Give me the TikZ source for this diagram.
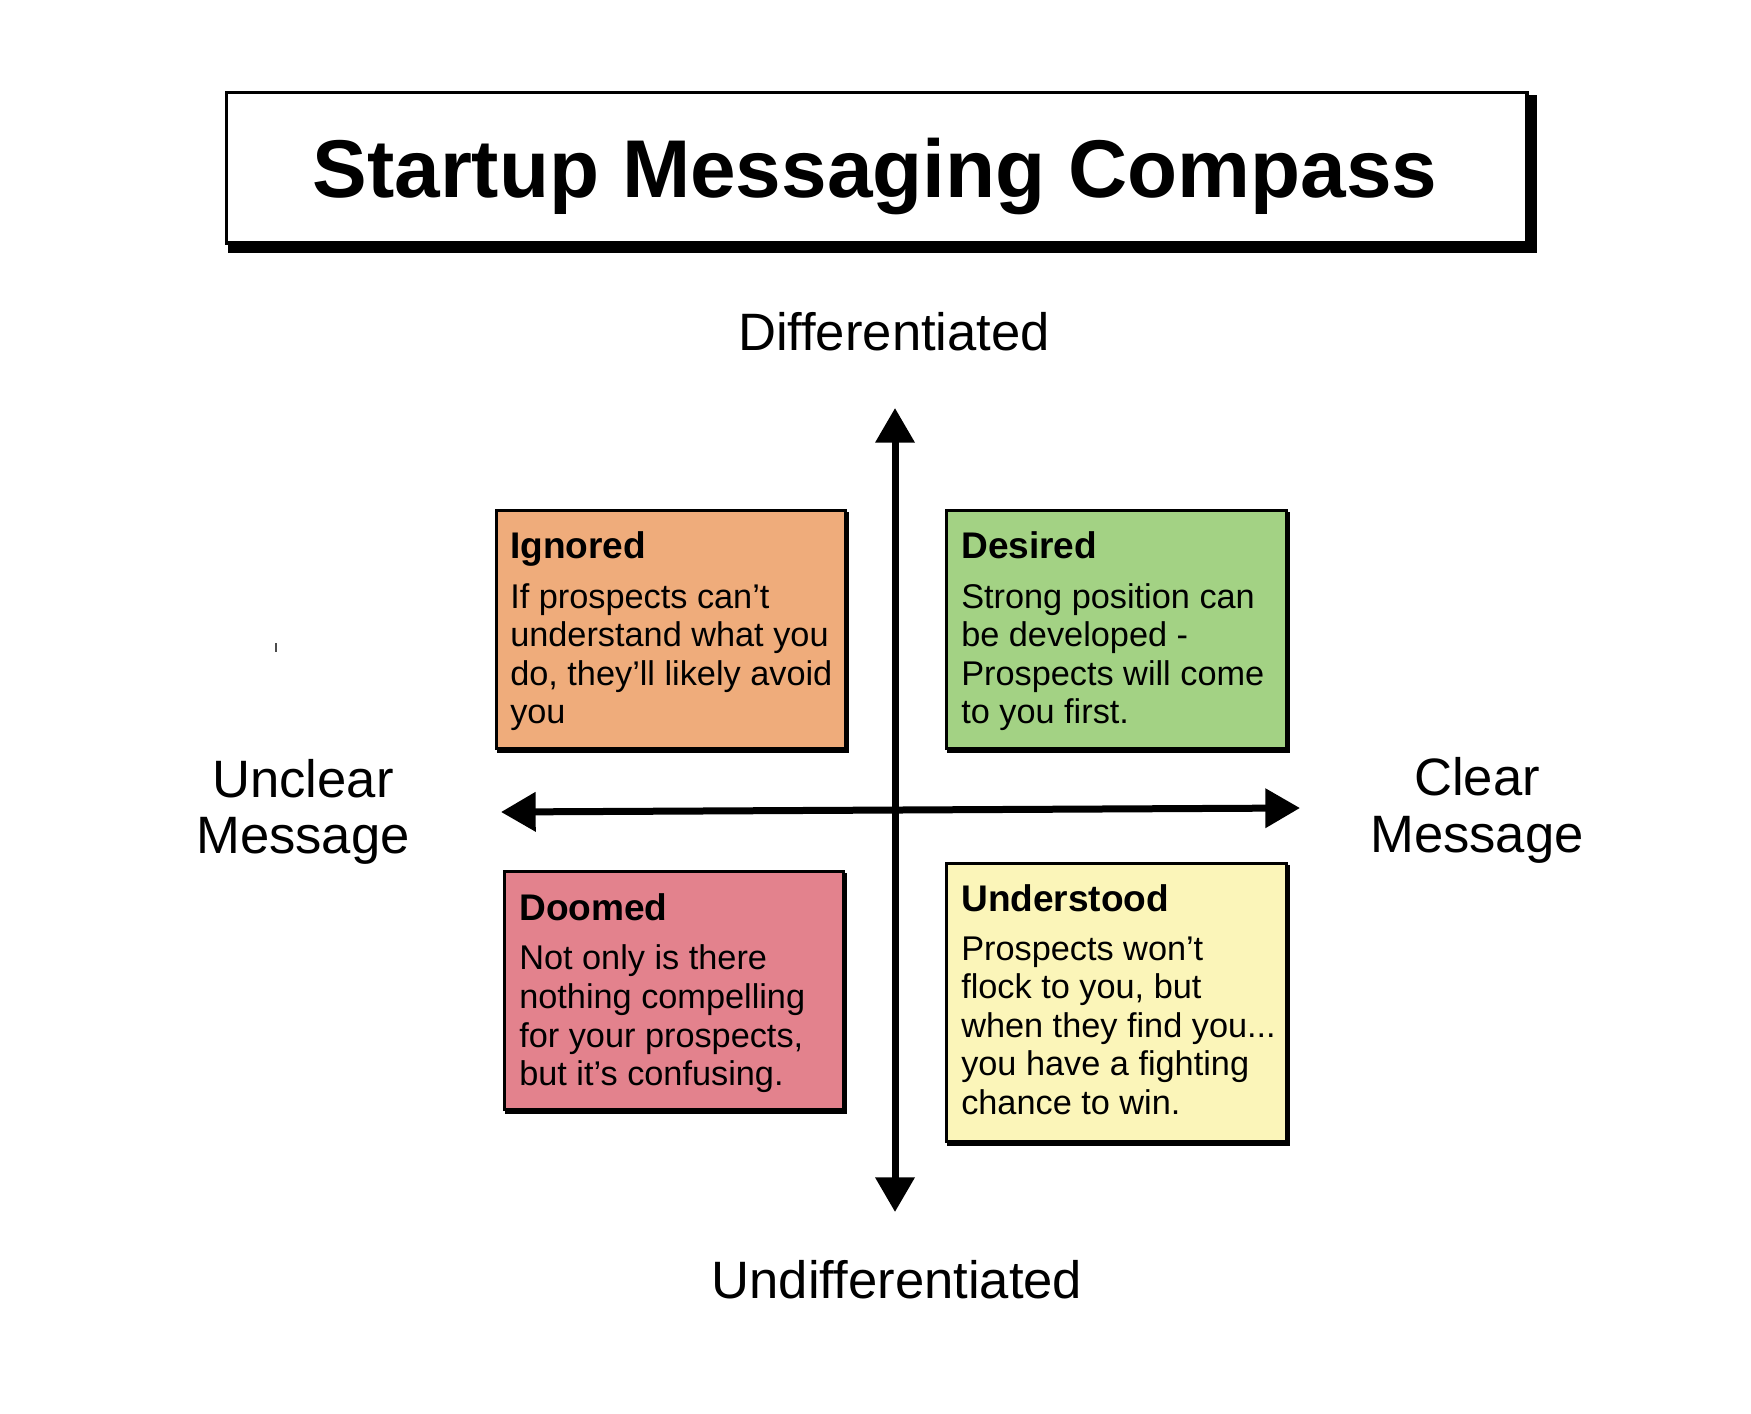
\documentclass[tikz,border=0pt]{standalone}
\usepackage{fontspec}
\setmainfont{Liberation Sans}
\usetikzlibrary{arrows.meta}
\definecolor{cIgn}{HTML}{EFAC7B}
\definecolor{cDes}{HTML}{A3D284}
\definecolor{cDoo}{HTML}{E3828D}
\definecolor{cUnd}{HTML}{FBF5B9}
\newlength\tmpw
\newcommand\fitsize[3]{\settowidth\tmpw{\fontsize{10pt}{12pt}\selectfont #3}\pgfmathsetmacro#1{7.5*#2/\tmpw}\global\let#1#1}
\begin{document}
\fitsize\titlesz{1125}{\bfseries Startup Messaging Compass}%
\fitsize\axissz{312}{Differentiated}%
\fitsize\headsz{208}{\bfseries Understood}%
\fitsize\bodysz{303}{Prospects will come}%
\begin{tikzpicture}[x=0.75pt,y=-0.75pt]
\tikzset{
  titlefont/.style={font=\fontsize{\titlesz pt}{\titlesz pt}\selectfont\bfseries},
  axisfont/.style={font=\fontsize{\axissz pt}{\axissz pt}\selectfont},
  headfont/.style={font=\fontsize{\headsz pt}{\headsz pt}\selectfont\bfseries},
  bodyfont/.style={font=\fontsize{\bodysz pt}{\bodysz pt}\selectfont},
  txt/.style={inner sep=0pt, anchor=base west},
  ctxt/.style={inner sep=0pt, anchor=base},
  qbox/.style={draw=black, line width=2.25pt, anchor=north west, inner sep=0pt},
  qshadow/.style={fill=black, anchor=north west, inner sep=0pt},
  axis/.style={line width=5.25pt, {Triangle[length=26pt,width=28.5pt]}-{Triangle[length=26pt,width=28.5pt]}},
}
\useasboundingbox[fill=white] (0,0) rectangle (1751,1413);

% title
\node[qshadow, minimum width=981.75pt, minimum height=118.5pt] (titleshadow) at (228,95) {};
\node[qbox, fill=white, line width=2.6pt, minimum width=975.5pt, minimum height=113pt] (titlebox) at (224.7,90.7) {};
\node[titlefont, ctxt] (title) at (875,197) {Startup Messaging Compass};

% axes
\coordinate (vtop) at (895,408);
\coordinate (vbot) at (895,1212);
\coordinate (hleft) at (501,812);
\coordinate (hright) at (1300,808);
\draw[axis] (vbot) -- (vtop);
\draw[axis] (hleft) -- (hright);

% axis labels
\node[axisfont, ctxt] (ldiff) at (894,350) {Differentiated};
\node[axisfont, ctxt] (lundiff) at (897,1298) {Undifferentiated};
\node[axisfont, ctxt] (lunc1) at (303,797) {Unclear};
\node[axisfont, ctxt] (lunc2) at (303,853) {Message};
\node[axisfont, ctxt] (lclr1) at (1477,795) {Clear};
\node[axisfont, ctxt] (lclr2) at (1477,852) {Message};

% tiny mark
\draw[line width=0.9pt, black!70] (276,643) -- (276,652);

% Ignored
\node[qshadow, minimum width=264pt, minimum height=180.75pt] (ignshadow) at (497,512) {};
\node[qbox, fill=cIgn, minimum width=261.75pt, minimum height=178.5pt] (ign) at (494.5,508.5) {};
\node[headfont, txt] (ignh) at (510,558) {Ignored};
\node[bodyfont, txt] (ign1) at (510,608) {If prospects can’t};
\node[bodyfont, txt] (ign2) at (510,646.5) {understand what you};
\node[bodyfont, txt] (ign3) at (510,685) {do, they’ll likely avoid};
\node[bodyfont, txt] (ign4) at (510,723) {you};

% Desired
\node[qshadow, minimum width=257.25pt, minimum height=180.75pt] (desshadow) at (947,512) {};
\node[qbox, fill=cDes, minimum width=255pt, minimum height=178.5pt] (des) at (944.5,508.5) {};
\node[headfont, txt] (desh) at (961,558) {Desired};
\node[bodyfont, txt] (des1) at (961,608) {Strong position can};
\node[bodyfont, txt] (des2) at (961,646.5) {be developed -};
\node[bodyfont, txt] (des3) at (961,685) {Prospects will come};
\node[bodyfont, txt] (des4) at (961,723) {to you first.};

% Doomed
\node[qshadow, minimum width=256.5pt, minimum height=180.75pt] (dooshadow) at (505,873) {};
\node[qbox, fill=cDoo, minimum width=254.25pt, minimum height=178.5pt] (doo) at (502.5,869.5) {};
\node[headfont, txt] (dooh) at (519,920) {Doomed};
\node[bodyfont, txt] (doo1) at (519,969) {Not only is there};
\node[bodyfont, txt] (doo2) at (519,1008) {nothing compelling};
\node[bodyfont, txt] (doo3) at (519,1047) {for your prospects,};
\node[bodyfont, txt] (doo4) at (519,1085) {but it’s confusing.};

% Understood
\node[qshadow, minimum width=257.25pt, minimum height=210.75pt] (undshadow) at (947,865) {};
\node[qbox, fill=cUnd, minimum width=255pt, minimum height=208.5pt] (und) at (944.5,861.5) {};
\node[headfont, txt] (undh) at (961,911) {Understood};
\node[bodyfont, txt] (und1) at (961,960) {Prospects won’t};
\node[bodyfont, txt] (und2) at (961,998) {flock to you, but};
\node[bodyfont, txt] (und3) at (961,1037) {when they find you...};
\node[bodyfont, txt] (und4) at (961,1075) {you have a fighting};
\node[bodyfont, txt] (und5) at (961,1114) {chance to win.};
\end{tikzpicture}
\end{document}
